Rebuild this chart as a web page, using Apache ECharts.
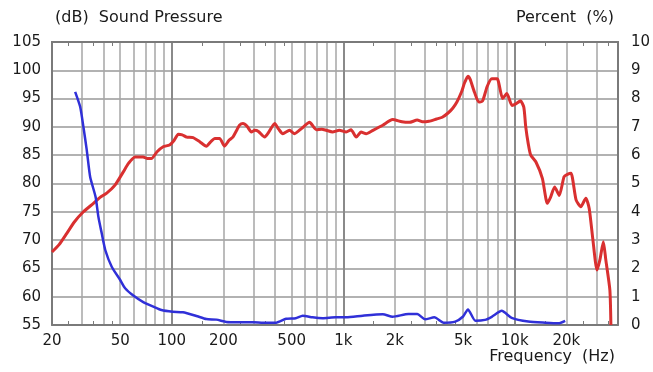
<!DOCTYPE html>
<html>
<head>
<meta charset="utf-8">
<script src="https://cdn.jsdelivr.net/npm/echarts@6/dist/echarts.min.js"></script>
<style>
html,body{margin:0;padding:0;background:#fff;}
#chart{width:653px;height:372px;}
</style>
</head>
<body>
<div id="chart"></div>
<script>
// Sound pressure (red), left axis dB
var splFreq = [20,22,24.4,27,30.5,34.9,38,41.7,46.6,52.2,56,61,68,72,76,82,89,97,103,109,115,122,133,146,159,170,178,190,203,215,227,240,248,260,275,291,305,320,348,370,398,420,444,486,520,570,636,697,750,796,866,948,1040,1110,1190,1270,1360,1490,1700,1940,2200,2430,2700,2900,3160,3500,3780,4100,4350,4600,4900,5100,5340,5500,5770,6170,6500,6900,7350,7900,8500,9000,9650,10200,10800,11300,11600,12000,12400,13300,14500,15500,16200,17100,18200,19400,20300,21300,22800,24300,26000,27200,28600,30200,31400,32900,34000,35900,36400];
var splDb = [67.9,69.2,71.2,73.2,75.0,76.5,77.5,78.3,79.7,82.1,83.6,84.7,84.7,84.4,84.4,85.6,86.5,86.8,87.6,88.7,88.6,88.2,88.1,87.35,86.6,87.5,87.95,87.95,86.6,87.6,88.2,89.5,90.3,90.6,90.1,89.1,89.4,89.2,88.2,89.2,90.6,89.6,88.8,89.4,88.8,89.7,90.8,89.5,89.6,89.4,89.1,89.4,89.1,89.5,88.2,89.1,88.8,89.4,90.3,91.3,90.9,90.8,91.2,90.9,91.0,91.4,91.7,92.5,93.3,94.4,96.2,97.8,98.95,98.4,96.5,94.4,94.6,97.1,98.5,98.5,95.0,95.9,93.8,94.1,94.6,93.5,90.0,87.0,85.0,83.8,80.9,76.5,77.6,79.4,77.9,81.2,81.6,81.8,77.1,75.9,77.4,75.6,70.0,64.7,66.5,69.7,66.5,61.2,55.0];
// Distortion (blue), right axis percent
var thdFreq = [27.3,29.2,30.5,31.9,33.4,35.9,37.3,39.0,40.9,44.6,50,53.4,59.9,68.5,78,87,101,116,139,159,182,208,248,300,340,406,464,528,580,662,758,904,1040,1300,1700,1940,2400,2700,3000,3400,3850,4500,5000,5340,5900,6700,7350,8400,9600,12000,15100,18000,19700];
var thdPct = [8.24,7.71,7.0,6.18,5.23,4.53,3.82,3.24,2.65,2.06,1.59,1.30,1.03,0.80,0.65,0.53,0.47,0.45,0.32,0.21,0.19,0.11,0.10,0.10,0.08,0.08,0.22,0.24,0.33,0.27,0.24,0.27,0.27,0.33,0.38,0.29,0.39,0.39,0.2,0.27,0.08,0.12,0.3,0.55,0.15,0.18,0.29,0.5,0.25,0.12,0.08,0.06,0.15];
// Axis ticks
var freqMin = 20, freqMax = 40000;
var freqLabels = [20,50,100,200,500,1000,2000,5000,10000,20000];
var freqLabelText = ['20','50','100','200','500','1k','2k','5k','10k','20k'];
var gridFreqs = [20,30,40,50,60,70,80,90,100,200,300,400,500,600,700,800,900,1000,2000,3000,4000,5000,6000,7000,8000,9000,10000,20000,30000,40000];
var decadeFreqs = [100,1000,10000];
var minorFreqs = [25,35,45,150,250,350,450,1500,2500,3500,4500,15000,25000,35000];
var dbMin = 55, dbMax = 105, dbStep = 5;
var pctMin = 0, pctMax = 10, pctStep = 1;

var L = function(v){ return Math.log10(v); };
var labelMap = {};
freqLabels.forEach(function(f,i){ labelMap[L(f).toFixed(5)] = freqLabelText[i]; });

var FONT = 'DejaVu Sans';
var TXT = '#1a1a1a';
var BORDER = '#7a7a7a';
var GRID = '#a6a6a6';

function xAx(extra){
  var base = {
    type:'value', min:L(freqMin), max:L(freqMax), gridIndex:0,
    axisLine:{show:true, lineStyle:{color:BORDER, width:2}},
    axisTick:{show:false}, axisLabel:{show:false}, splitLine:{show:false}
  };
  for (var k in extra) base[k] = extra[k];
  return base;
}

var chart = echarts.init(document.getElementById('chart'), null, {renderer:'canvas'});
chart.setOption({
  animation:false,
  backgroundColor:'#fff',
  grid:{left:52, right:34, top:42, bottom:47, containLabel:false},
  graphic:[
    {type:'text', left:55, top:10, style:{text:'(dB)  Sound Pressure', font:'16px "DejaVu Sans"', fill:TXT}},
    {type:'text', right:39, top:10, style:{text:'Percent  (%)', font:'16px "DejaVu Sans"', fill:TXT}},
    {type:'text', right:38, top:349, style:{text:'Frequency  (Hz)', font:'16px "DejaVu Sans"', fill:TXT}}
  ],
  xAxis:[
    xAx({position:'bottom',
      axisTick:{show:true, inside:true, length:4, customValues:minorFreqs.map(L), lineStyle:{color:BORDER, width:1}},
      axisLabel:{show:true, customValues:freqLabels.map(L), margin:9, fontFamily:FONT, fontSize:15, color:TXT,
        formatter:function(v){ return labelMap[v.toFixed(5)] || ''; }}
    }),
    xAx({position:'top',
      axisTick:{show:true, inside:true, length:4, customValues:minorFreqs.map(L), lineStyle:{color:BORDER, width:1}}
    }),
    xAx({position:'top',
      axisTick:{show:false, customValues:gridFreqs.map(L)},
      splitLine:{show:true, lineStyle:{color:GRID, width:1.5}}
    }),
    xAx({position:'top',
      axisTick:{show:false, customValues:decadeFreqs.map(L)},
      splitLine:{show:true, lineStyle:{color:'#8a8a8a', width:2}}
    })
  ],
  yAxis:[
    {type:'value', position:'left', min:dbMin, max:dbMax, interval:dbStep,
     axisLine:{show:true, lineStyle:{color:BORDER, width:2}}, axisTick:{show:false},
     axisLabel:{margin:11, fontFamily:FONT, fontSize:15, color:TXT},
     splitLine:{show:true, lineStyle:{color:'#999', width:1.5}}},
    {type:'value', position:'right', min:pctMin, max:pctMax, interval:pctStep,
     axisLine:{show:true, lineStyle:{color:BORDER, width:2}}, axisTick:{show:false},
     axisLabel:{margin:13, fontFamily:FONT, fontSize:15, color:TXT},
     splitLine:{show:false}}
  ],
  series:[
    {type:'line', name:'Sound Pressure', xAxisIndex:0, yAxisIndex:0, showSymbol:false, smooth:0.2,
     lineStyle:{color:'#d93030', width:3}, clip:true,
     data: splFreq.map(function(f,i){ return [L(f), splDb[i]]; })},
    {type:'line', name:'Percent', xAxisIndex:0, yAxisIndex:1, showSymbol:false, smooth:0.2,
     lineStyle:{color:'#3030d8', width:2.5}, clip:true,
     data: thdFreq.map(function(f,i){ return [L(f), thdPct[i]]; })}
  ]
});
</script>
</body>
</html>
